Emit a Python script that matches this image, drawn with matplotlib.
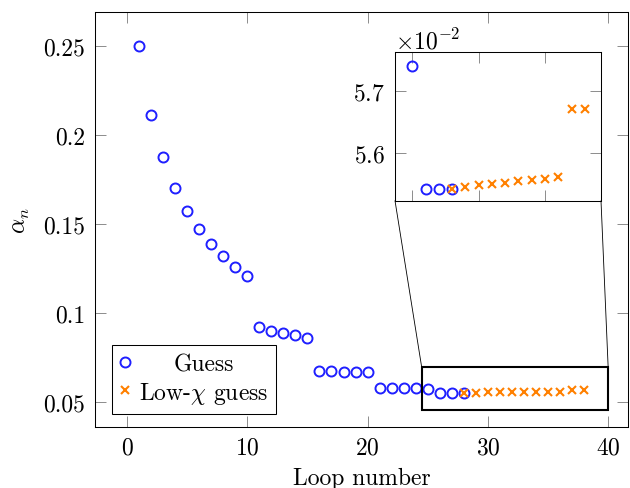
import matplotlib
matplotlib.use('Agg')
import matplotlib.pyplot as plt
from matplotlib.ticker import FixedLocator, FuncFormatter, ScalarFormatter, MultipleLocator, NullFormatter
from matplotlib.patches import Rectangle, ConnectionPatch

plt.rcParams['font.family'] = ['cmr10', 'DejaVu Serif']
plt.rcParams['mathtext.fontset'] = 'cm'
plt.rcParams['axes.formatter.use_mathtext'] = True

# ---- data ----
guess_loop = list(range(1, 29))
guess_alpha = [0.2498, 0.2113, 0.1874, 0.1702, 0.1571, 0.1470, 0.1388, 0.1319,
               0.1260, 0.1210, 0.0921, 0.0902, 0.0887, 0.0876, 0.0862, 0.0676,
               0.0674, 0.0672, 0.0671, 0.0669, 0.0580, 0.0580, 0.0579, 0.0579,
               0.05740, 0.05542, 0.05542, 0.05542]
lowchi_loop = list(range(28, 39))
lowchi_alpha = [0.05542, 0.05545, 0.05548, 0.05550, 0.05552, 0.05555, 0.05557,
                0.05558, 0.05561, 0.05671, 0.05671]

x_ticks = [0, 10, 20, 30, 40]
y_ticks = [0.05, 0.1, 0.15, 0.2, 0.25]
inset_x_ticks = [25, 30, 35]
labels = ['Guess', r'Low-$\chi$ guess']

blue = '#1f1fff'
orange = '#ff8000'
tick_gray = '#8c8c8c'
FS = 17

W, H = 630, 489
fig = plt.figure(figsize=(W / 100, H / 100), dpi=100)
ax = fig.add_axes([95 / W, 1 - 428 / H, 533 / W, (428 - 12.7) / H])


def draw_series(a):
    a.plot(guess_loop, guess_alpha, ls='none', marker='o', ms=7.2, mfc='none',
           mec=blue, mew=1.4, label=labels[0], zorder=3)
    a.plot(lowchi_loop, lowchi_alpha, ls='none', marker='x', ms=5.2,
           mec=orange, mew=1.5, label=labels[1], zorder=3)


def style_axes(a):
    for s in a.spines.values():
        s.set_linewidth(0.75)
        s.set_color('black')
    a.tick_params(direction='in', length=7.9, width=0.7, color=tick_gray,
                  top=True, right=True, labelsize=FS, pad=7)


draw_series(ax)
ax.set_xlim(-2.66, 41.65)
ax.set_ylim(0.0361, 0.2691)
ax.xaxis.set_major_locator(FixedLocator(x_ticks))
ax.yaxis.set_major_locator(FixedLocator(y_ticks))
ax.yaxis.set_major_formatter(FuncFormatter(lambda v, p: '%g' % v))
style_axes(ax)
ax.set_xlabel('Loop number', fontsize=FS, labelpad=6)
ax.set_ylabel(r'$\alpha_n$', fontsize=FS, labelpad=8)

rect = Rectangle((24.5, 0.0457), 15.5, 0.0239, fill=False, lw=1.5,
                 ec='black', zorder=5)
ax.add_patch(rect)

# ---- inset ----
axin = fig.add_axes([395 / W, 1 - 201.7 / H, 206 / W, 148.4 / H])
draw_series(axin)
axin.set_xlim(23.70, 39.22)
axin.set_ylim(0.055234, 0.057616)
axin.xaxis.set_major_locator(FixedLocator(inset_x_ticks))
axin.xaxis.set_major_formatter(NullFormatter())
axin.yaxis.set_major_locator(MultipleLocator(0.001))
fmt = ScalarFormatter(useMathText=True)
fmt.set_powerlimits((0, 0))
axin.yaxis.set_major_formatter(fmt)
style_axes(axin)
axin.yaxis.get_offset_text().set_fontsize(FS)

for xa, xb in [(24.5, 0), (40.0, 1)]:
    con = ConnectionPatch(xyA=(xa, 0.0696), coordsA=ax.transData,
                          xyB=(xb, 0), coordsB=axin.transAxes,
                          color='black', lw=0.6, zorder=1)
    fig.add_artist(con)

leg = ax.legend(loc='lower left', bbox_to_anchor=(0.0313, 0.0313), fontsize=FS,
                frameon=True, fancybox=False, edgecolor='black', framealpha=1,
                handlelength=0.4, handletextpad=0.4, borderpad=0.35,
                labelspacing=0.2, borderaxespad=0)
leg.get_frame().set_linewidth(0.75)
leg.set_zorder(6)

fig.canvas.draw()
r = fig.canvas.get_renderer()
texts = leg.get_texts()
widths = [t.get_window_extent(r).width for t in texts]
wmax = max(widths)
for t, w in zip(texts, widths):
    t.set_x((wmax - w) / 2)

fig.savefig('out.png', dpi=100)
